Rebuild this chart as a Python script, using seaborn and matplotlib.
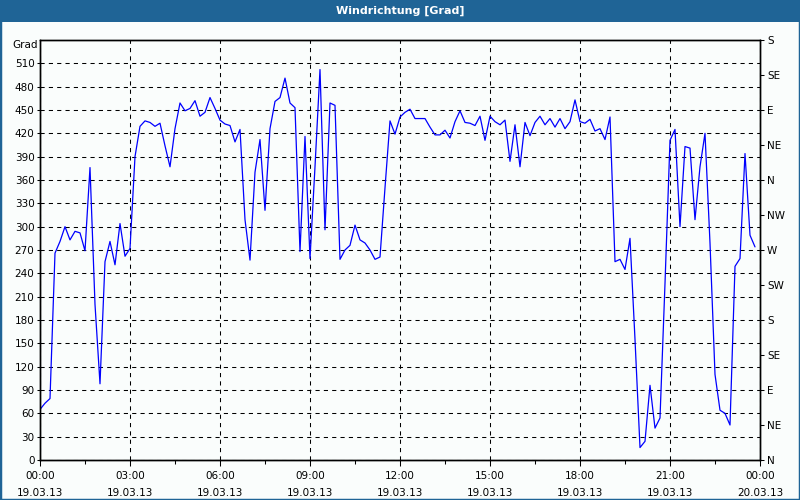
import pandas as pd
import matplotlib
matplotlib.use('Agg')
import matplotlib.pyplot as plt
import matplotlib.dates as mdates
from matplotlib.patches import Rectangle
import seaborn as sns

# Windrichtung in Grad, 10-Minuten-Werte, je 3 Stunden ein Block
wind_00_03 = [65, 73, 79, 266, 281, 300, 283, 294, 292, 269, 376, 200, 98, 255, 281, 251, 304, 262]
wind_03_06 = [272, 390, 429, 436, 434, 429, 433, 404, 377, 426, 459, 449, 452, 462, 442, 447, 466, 452]
wind_06_09 = [437, 432, 430, 409, 425, 309, 257, 370, 412, 321, 426, 461, 466, 491, 459, 453, 268, 416]
wind_09_12 = [259, 377, 502, 296, 459, 456, 258, 270, 276, 302, 283, 279, 270, 258, 261, 350, 436, 419]
wind_12_15 = [441, 447, 451, 439, 439, 439, 428, 418, 418, 424, 414, 435, 449, 434, 433, 430, 442, 411]
wind_15_18 = [442, 435, 431, 437, 384, 431, 377, 434, 417, 434, 442, 431, 439, 428, 439, 426, 435, 463]
wind_18_21 = [435, 433, 438, 423, 426, 412, 441, 255, 258, 245, 285, 155, 16, 24, 96, 41, 54, 227]
wind_21_24 = [411, 425, 300, 403, 401, 309, 377, 420, 279, 110, 64, 60, 45, 249, 259, 394, 289, 274]

grad_ticks = list(range(0, 540, 30))
richtung_ticks = list(range(0, 541, 45))
richtungen = ['N', 'NE', 'E', 'SE', 'S', 'SW', 'W', 'NW', 'N', 'NE', 'E', 'SE', 'S']

werte = (wind_00_03 + wind_03_06 + wind_06_09 + wind_09_12
         + wind_12_15 + wind_15_18 + wind_18_21 + wind_21_24)
zeit = pd.date_range('2013-03-19 00:00', periods=len(werte), freq='10min')
df = pd.DataFrame({'zeit': zeit, 'grad': werte})

sns.set_style('white')
plt.rcParams['font.family'] = ['DejaVu Sans']
plt.rcParams['text.color'] = 'black'
plt.rcParams['xtick.color'] = 'black'
plt.rcParams['ytick.color'] = 'black'

bg = '#FAFDFC'
blau = '#1F6496'

fig = plt.figure(figsize=(8, 5), dpi=100, facecolor=bg)
ax = fig.add_axes([0.05, 0.08, 0.90, 0.84])
ax.set_facecolor(bg)

sns.lineplot(data=df, x='zeit', y='grad', ax=ax, color='#0000FF', linewidth=0.9)

ax.set_xlim(pd.Timestamp('2013-03-19 00:00'), pd.Timestamp('2013-03-20 00:00'))
ax.set_ylim(0, 540)
ax.set_yticks(grad_ticks)
ax.set_xlabel('')
ax.set_ylabel('')

ax.xaxis.set_major_locator(mdates.HourLocator(byhour=range(0, 24, 3)))
ax.xaxis.set_major_formatter(mdates.DateFormatter('%H:%M\n%d.%m.%y'))
minor = pd.date_range('2013-03-19 01:30', periods=8, freq='3h')
ax.set_xticks(mdates.date2num(minor), minor=True)

ax.grid(True, which='major', color='black', linestyle=(0, (4, 4)), linewidth=0.75)
for s in ax.spines.values():
    s.set_color('black')
    s.set_linewidth(1)

ax.tick_params(axis='x', which='major', direction='out', length=4, width=0.75,
               colors='black', labelsize=7.5, pad=4, bottom=True)
ax.tick_params(axis='x', which='minor', direction='out', length=3, width=0.75,
               colors='black', bottom=True)
ax.tick_params(axis='y', direction='out', length=2, width=0.75, colors='black',
               labelsize=7.5, pad=2, left=True)
for lbl in ax.get_xticklabels():
    lbl.set_linespacing(1.9)

ax2 = ax.twinx()
ax2.set_ylim(0, 540)
ax2.set_yticks(richtung_ticks)
ax2.set_yticklabels(richtungen)
ax2.grid(False)
ax2.tick_params(axis='y', direction='out', length=3, width=0.75, colors='black',
                labelsize=7.5, pad=2, right=True)
for s in ax2.spines.values():
    s.set_color('black')
    s.set_linewidth(1)

fig.add_artist(Rectangle((0, 0.956), 1, 0.044, transform=fig.transFigure,
                         facecolor=blau, edgecolor='none'))
fig.add_artist(Rectangle((0, 0), 1, 1, transform=fig.transFigure,
                         fill=False, edgecolor=blau, linewidth=2.5))
fig.text(0.5, 0.978, 'Windrichtung [Grad]', color='white', fontweight='bold',
         ha='center', va='center', fontsize=8)
fig.text(0.047, 0.91, 'Grad', ha='right', va='center', fontsize=7.5)

fig.savefig('out.png', dpi=100, facecolor=fig.get_facecolor())
